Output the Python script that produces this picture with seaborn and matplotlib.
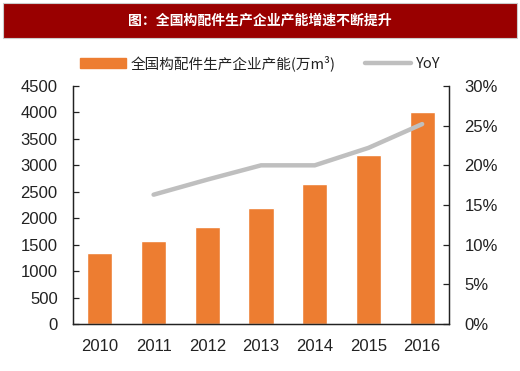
import matplotlib
matplotlib.use("Agg")
import matplotlib.pyplot as plt
import matplotlib.patches as mpatches
from matplotlib.lines import Line2D
from matplotlib.ticker import FuncFormatter
import seaborn as sns

years = ["2010", "2011", "2012", "2013", "2014", "2015", "2016"]
capacity = [1350, 1570, 1840, 2200, 2640, 3200, 4000]
yoy_years = ["2011", "2012", "2013", "2014", "2015", "2016"]
yoy = [16.3, 18.2, 20.0, 20.0, 22.2, 25.2]

sns.set_style("white")
plt.rcParams["font.family"] = ["Liberation Sans", "Noto Sans CJK SC", "DejaVu Sans"]

bar_color = "#ED7D31"
line_color = "#BFBFBF"

fig = plt.figure(figsize=(5.2, 3.71), dpi=100)
ax = fig.add_axes([0.1404, 0.1267, 0.7231, 0.6415])

sns.barplot(x=years, y=capacity, color=bar_color, width=0.47, saturation=1, ax=ax)
ax.set_xlim(-0.5, 6.5)
ax.set_ylim(0, 4500)
ax.set_yticks(range(0, 4501, 500))

ax2 = ax.twinx()
sns.lineplot(x=yoy_years, y=yoy, color=line_color, linewidth=3.2, ax=ax2)
ax2.set_ylim(0, 30)
ax2.set_yticks(range(0, 31, 5))
ax2.yaxis.set_major_formatter(FuncFormatter(lambda v, p: f"{v:.0f}%"))
ax.set_xlim(-0.5, 6.5)

for a in (ax, ax2):
    a.set_xlabel("")
    a.set_ylabel("")
    a.spines["top"].set_visible(False)
    for s in ("left", "right", "bottom"):
        a.spines[s].set_color("#222222")
        a.spines[s].set_linewidth(0.9)

ax.tick_params(axis="y", direction="in", length=4, width=0.9, color="#222222",
               labelsize=12, pad=11, labelcolor="#222222")
ax.tick_params(axis="x", length=0, labelsize=12, pad=11, labelcolor="#222222")
ax2.tick_params(axis="y", direction="in", length=4, width=0.9, color="#222222",
                labelsize=12, pad=11, labelcolor="#222222")
ax.set_xticks(range(len(years)))
ax.set_xticklabels(years)
# small ticks between the years
ax.set_xticks([i + 0.5 for i in range(len(years) - 1)], minor=True)
ax.tick_params(axis="x", which="minor", direction="in", length=4, width=0.9, color="#222222")

handles = [mpatches.Patch(color=bar_color, label="全国构配件生产企业产能(万m³)"),
           Line2D([], [], color=line_color, linewidth=3.2, label="YoY")]
fig.legend(handles=handles, loc="center", bbox_to_anchor=(0.5, 0.83), ncol=2,
           frameon=False, handlelength=3.2, columnspacing=2.0,
           handletextpad=0.3, labelcolor="#222222",
           prop={"family": ["Noto Sans CJK SC", "DejaVu Sans"], "size": 10.5})

fig.patches.append(mpatches.Rectangle((0.006, 0.898), 0.988, 0.094,
                                      transform=fig.transFigure, facecolor="#990000",
                                      edgecolor="#cccccc", linewidth=0.8))
fig.text(0.5, 0.945, "图：全国构配件生产企业产能增速不断提升", ha="center", va="center",
         color="white", fontsize=10, fontweight="bold",
         family=["Noto Sans CJK SC", "DejaVu Sans"])

fig.savefig("out.png", dpi=100)
